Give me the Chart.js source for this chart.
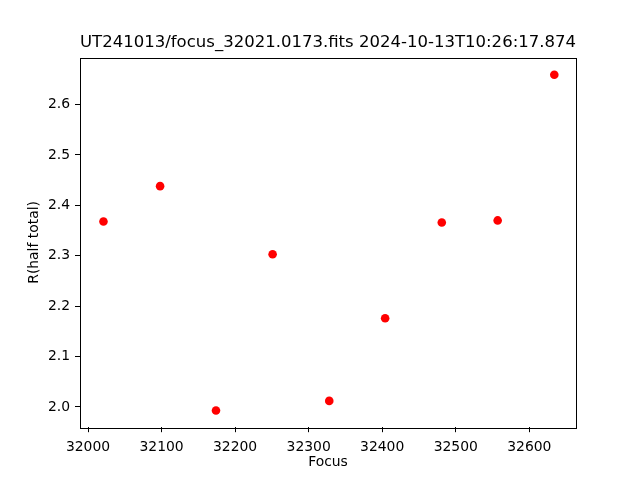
<!DOCTYPE html>
<html>
<head>
<meta charset="utf-8">
<script src="https://cdn.jsdelivr.net/npm/chart.js@4/dist/chart.umd.min.js"></script>
<style>
html,body{margin:0;padding:0;background:#fff;}
#wrap{width:640px;height:480px;}
</style>
</head>
<body>
<div id="wrap"><canvas id="c" width="640" height="480"></canvas></div>
<script>
const focusValues = [32021, 32098, 32174, 32251, 32328, 32404, 32481, 32557, 32634];
const halfTotalR = [2.368, 2.438, 1.993, 2.303, 2.012, 2.176, 2.366, 2.370, 2.659];
const titleText = 'UT241013/focus_32021.0173.fits 2024-10-13T10:26:17.874';
const xLabel = 'Focus';
const yLabel = 'R(half total)';

const FONT = 'DejaVu Sans';
const points = focusValues.map((x, i) => ({x: x, y: halfTotalR[i]}));

const frame = {
  id: 'frame',
  afterDatasetsDraw(chart) {
    const a = chart.chartArea, ctx = chart.ctx;
    ctx.save();
    ctx.strokeStyle = '#000';
    ctx.lineWidth = 1;
    ctx.strokeRect(Math.round(a.left) + 0.5, Math.round(a.top) + 0.5,
                   Math.round(a.right - a.left), Math.round(a.bottom - a.top));
    ctx.restore();
  }
};

new Chart(document.getElementById('c'), {
  type: 'scatter',
  data: {
    datasets: [{
      data: points,
      backgroundColor: '#ff0000',
      borderColor: '#ff0000',
      borderWidth: 0,
      pointRadius: 4.3,
      pointHoverRadius: 4.3
    }]
  },
  options: {
    responsive: false,
    animation: false,
    events: [],
    layout: {padding: {left: 0, right: 64, top: 0, bottom: 0}},
    plugins: {
      legend: {display: false},
      tooltip: {enabled: false},
      title: {
        display: true,
        text: titleText,
        fullSize: false,
        color: '#000',
        font: {family: FONT, size: 16.67, weight: 'normal', lineHeight: 1.2},
        padding: {top: 32.3, bottom: 5.3}
      }
    },
    scales: {
      x: {
        type: 'linear',
        min: 31989.1,
        max: 32663.5,
        afterFit(s) { s.height = 52.8; },
        grid: {drawOnChartArea: false, drawTicks: true, tickLength: 5, color: '#000', tickColor: '#000'},
        border: {display: false},
        ticks: {
          stepSize: 100,
          includeBounds: false,
          maxRotation: 0,
          autoSkip: false,
          color: '#000',
          padding: 7,
          font: {family: FONT, size: 13.9},
          callback: v => String(Math.round(v))
        },
        title: {display: true, text: xLabel, color: '#000', font: {family: FONT, size: 13.9}, padding: {top: 0, bottom: 9}}
      },
      y: {
        type: 'linear',
        min: 1.9598,
        max: 2.693,
        afterFit(s) { s.width = 80; },
        grid: {drawOnChartArea: false, drawTicks: true, tickLength: 5, color: '#000', tickColor: '#000'},
        border: {display: false},
        ticks: {
          stepSize: 0.1,
          includeBounds: false,
          autoSkip: false,
          color: '#000',
          padding: 5,
          font: {family: FONT, size: 13.9},
          callback: v => Number(v).toFixed(1)
        },
        title: {display: true, text: yLabel, color: '#000', font: {family: FONT, size: 13.9}, padding: {top: 26.5, bottom: 0}}
      }
    }
  },
  plugins: [frame]
});
</script>
</body>
</html>
